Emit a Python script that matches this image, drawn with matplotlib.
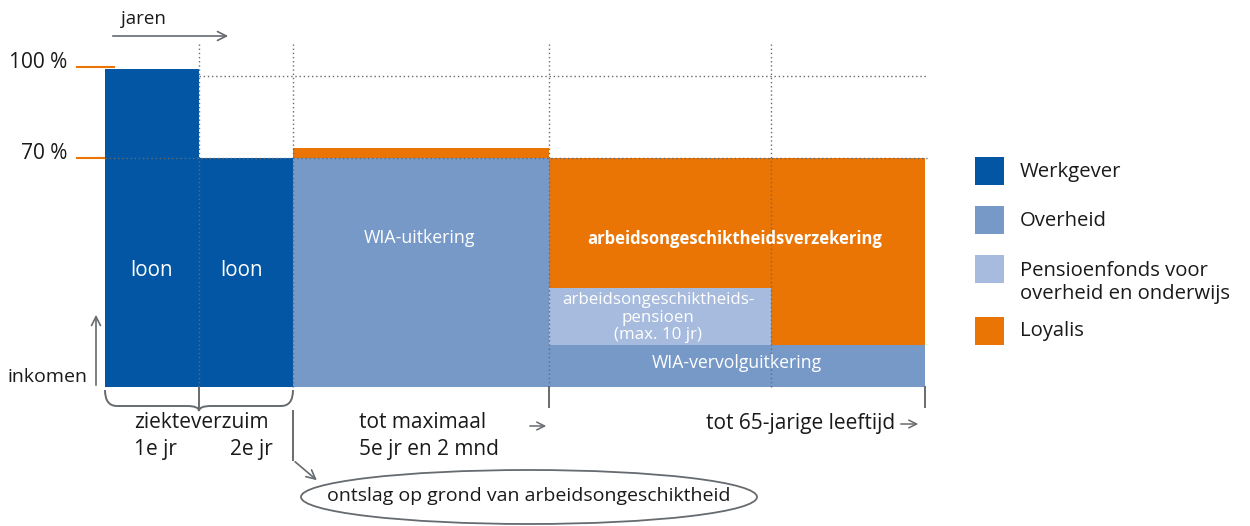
"""
Schematic of income during disability: who pays what part (werkgever,
overheid, pensioenfonds, Loyalis) over the years.
"""
import numpy as np
import matplotlib
matplotlib.use("Agg")
import matplotlib.pyplot as plt
from matplotlib.patches import Rectangle, Ellipse, PathPatch
from matplotlib.path import Path

plt.rcParams['font.family'] = ['Open Sans', 'DejaVu Sans']

# schematic time axis: boundaries of the periods (years, not to scale)
edges = [0, 1, 2, 4.72, 7.09, 8.72]

# income levels, relative to the 100 % bar
loon = [100, 72]              # werkgever, 1e en 2e jr
wia_uitkering = 72            # overheid, up to 5e jr en 2 mnd
loyalis_aanvulling = 3.2      # thin orange strip on top of the WIA-uitkering
wia_vervolg = 13.2            # overheid, after ontslag
pensioen = 17.9               # pensioenfonds, on top of the vervolguitkering
ao_verzekering_top = 72       # Loyalis fills up to the 70 % level
level_values = [100.6, 72]
level_labels = ["100 %", "70 %"]
ref_lines = [97.8, 72]        # dotted reference lines

legend_labels = ["Werkgever", "Overheid",
                 "Pensioenfonds voor\noverheid en onderwijs", "Loyalis"]

# colours
c_werkgever = '#0256a3'
c_overheid = '#7699c8'
c_pensioen = '#a6bbdd'
c_loyalis = '#ea7404'
c_grey = '#666b70'
c_text = '#1a1a1a'

# pixel <-> data mapping (figure is 1250 x 526 px)
X0, Y0, SX, SY = 105, 387, 94.0, 3.18


def p(x, y):
    """pixel position -> data position"""
    return (x - X0) / SX, (Y0 - y) / SY


fig = plt.figure(figsize=(12.5, 5.26), dpi=100)
ax = fig.add_axes([0, 0, 1, 1])
ax.set_xlim(-X0 / SX, (1250 - X0) / SX)
ax.set_ylim((Y0 - 526) / SY, Y0 / SY)
ax.axis('off')

w = np.diff(edges)
kw = dict(align='edge', linewidth=0, zorder=2)

# the bars
ax.bar(edges[0:2], loon, width=w[0:2], color=c_werkgever, **kw)
ax.bar(edges[2], wia_uitkering, width=w[2], color=c_overheid, **kw)
ax.bar(edges[2], loyalis_aanvulling, width=w[2], bottom=wia_uitkering,
       color=c_loyalis, **kw)
ax.bar(edges[3], wia_vervolg, width=edges[5] - edges[3], color=c_overheid, **kw)
ax.bar(edges[3], ao_verzekering_top - wia_vervolg, width=edges[5] - edges[3],
       bottom=wia_vervolg, color=c_loyalis, **kw)
ax.bar(edges[3], pensioen, width=w[3], bottom=wia_vervolg, color=c_pensioen, **kw)

# dotted grid
dots = dict(color=c_grey, lw=1, linestyle=(0, (1, 2)), zorder=3)
top = p(0, 44)[1]
for x in edges[1:5]:
    ax.plot([x, x], [0, top], **dots)
ax.plot([edges[1], edges[5] + 0.02], [ref_lines[0]] * 2, **dots)
ax.plot([edges[0], edges[5] + 0.02], [ref_lines[1]] * 2, **dots)

# levels on the left
for val, lab in zip(level_values, level_labels):
    ax.plot([p(77, 0)[0], p(114, 0)[0]], [val, val], color=c_loyalis, lw=1.5,
            zorder=1)
    ax.text(p(67, 0)[0], val + 1.3, lab, ha='right', va='center',
            fontsize=15, color=c_text)

# solid ticks under the bars
for x, y2 in [(edges[1], 409), (edges[3], 407), (edges[5], 407)]:
    ax.plot([x, x], [0, p(0, y2)[1]], color=c_grey, lw=1.4, zorder=3)

# "jaren" and "inkomen" arrows
arr = dict(arrowstyle='->', color=c_grey, lw=1.2, mutation_scale=16)
ax.annotate("", xy=p(231, 36), xytext=p(110, 36), arrowprops=arr)
ax.text(*p(121, 19), "jaren", ha='left', va='center', fontsize=13.5,
        color=c_text)
ax.annotate("", xy=p(96, 312), xytext=p(96, 388), arrowprops=arr)
ax.text(*p(8, 377), "inkomen", ha='left', va='center', fontsize=14,
        color=c_text)

# curly brace under ziekteverzuim
pts = [p(105, 390), p(105, 406), p(117, 406), p(187, 406), p(199, 406),
       p(199, 411), p(199, 406), p(211, 406), p(281, 406), p(293, 406),
       p(293, 390)]
codes = [Path.MOVETO, Path.CURVE3, Path.CURVE3, Path.LINETO, Path.CURVE3,
         Path.CURVE3, Path.CURVE3, Path.CURVE3, Path.LINETO, Path.CURVE3,
         Path.CURVE3]
ax.add_patch(PathPatch(Path(pts, codes), facecolor='none', edgecolor=c_grey,
                       lw=1.4, zorder=3))

# arrow down to ontslag
ax.plot(*zip(p(293, 411), p(293, 460)), color=c_grey, lw=1.4)
ax.annotate("", xy=p(319, 482), xytext=p(293, 460), arrowprops=arr)

# period texts
fs = 15
ax.text(*p(134, 423), "ziekteverzuim", ha='left', va='center', fontsize=fs,
        color=c_text)
ax.text(*p(134, 450), "1e jr", ha='left', va='center', fontsize=fs, color=c_text)
ax.text(*p(230, 450), "2e jr", ha='left', va='center', fontsize=fs, color=c_text)
ax.text(*p(359, 423), "tot maximaal", ha='left', va='center', fontsize=fs,
        color=c_text)
ax.text(*p(359, 450), "5e jr en 2 mnd", ha='left', va='center', fontsize=fs,
        color=c_text)
arr_thin = dict(arrowstyle='->', color=c_grey, lw=1.1, mutation_scale=14)
ax.annotate("", xy=p(549, 426), xytext=p(527, 426), arrowprops=arr_thin)
ax.text(*p(895, 423), "tot 65-jarige leeftijd", ha='right', va='center',
        fontsize=fs, color=c_text)
ax.annotate("", xy=p(921, 424), xytext=p(898, 424), arrowprops=arr_thin)

# ontslag ellipse
ax.add_patch(Ellipse(p(529, 497), 456 / SX, 54 / SY, facecolor='none',
                     edgecolor=c_grey, lw=1.3))
ax.text(*p(529, 496), "ontslag op grond van arbeidsongeschiktheid",
        ha='center', va='center', fontsize=14, color=c_text)

# labels inside the bars
white = dict(color='white', ha='center', va='center', zorder=4)
ax.text(*p(152, 270), "loon", fontsize=14.8, **white)
ax.text(*p(241, 270), "loon", fontsize=14.8, **white)
ax.text(*p(419, 238), "WIA-uitkering", fontsize=12.8, **white)
ax.text(*p(735, 239), "arbeidsongeschiktheidsverzekering", fontsize=12,
        fontweight='bold', **white)
for i, line in enumerate(["arbeidsongeschiktheids-", "pensioen", "(max. 10 jr)"]):
    ax.text(*p(658, 300 + 17.5 * i), line, fontsize=12.2, **white)
ax.text(*p(737, 363), "WIA-vervolguitkering", fontsize=12.7, **white)

# legend
legend_colors = [c_werkgever, c_overheid, c_pensioen, c_loyalis]
legend_y = [171, 220, 269, 331]
text_y = [172, 221, 283, 331]
for col, yy, ty, lab in zip(legend_colors, legend_y, text_y, legend_labels):
    x, y = p(975, yy + 14)
    ax.add_patch(Rectangle((x, y), 29 / SX, 28 / SY, facecolor=col, lw=0))
    ax.text(*p(1020, ty), lab, ha='left', va='center', fontsize=14.6,
            color=c_text, linespacing=1.2)

fig.savefig("out.png", dpi=100)
